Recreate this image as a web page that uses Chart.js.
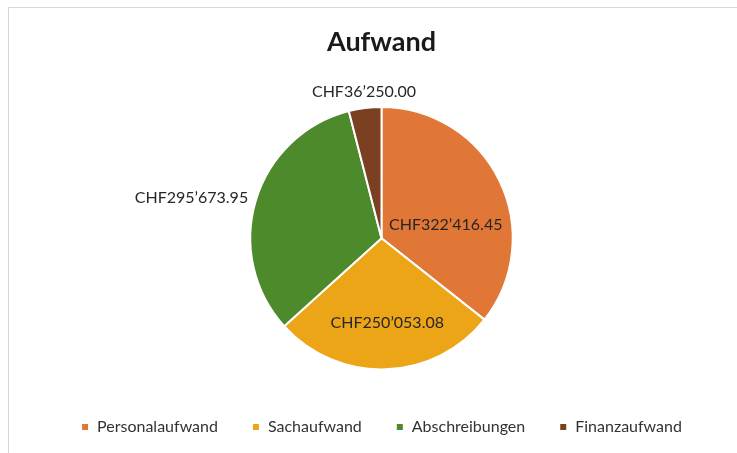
<!DOCTYPE html>
<html>
<head>
<meta charset="utf-8">
<script src="https://cdn.jsdelivr.net/npm/chart.js"></script>
<style>
  html, body { margin: 0; padding: 0; background: #fff; }
  .frame {
    position: absolute; left: 8px; top: 7px; width: 760px; height: 480px;
    border: 1px solid #d6d6d6; box-sizing: border-box;
  }
  #chart { position: absolute; left: 0; top: 0; }
</style>
</head>
<body>
<div class="frame"></div>
<canvas id="chart" width="737" height="453"></canvas>
<script>
const categories = ["Personalaufwand", "Sachaufwand", "Abschreibungen", "Finanzaufwand"];
const amounts = [322416.45, 250053.08, 295673.95, 36250.0];

// slice colours as they came out of the scan
const sliceColors = ["#e07736", "#eca517", "#4d8a2c", "#7b3f22"];
// where each value label goes (Excel "best fit")
const labelPlacement = ["inside", "inside", "outside", "outside"];
const labelRadius = [0.5, 0.65, 1, 1];
const labelAngleFrac = [0.61, 0.48, 0.5, 0.5];

const fontFamily = "Lato, 'Open Sans', sans-serif";

// CHF322'416.45 style
const formatChf = (v) => {
  const [whole, dec] = v.toFixed(2).split(".");
  return "CHF" + whole.replace(/\B(?=(\d{3})+(?!\d))/g, "\u2019") + "." + dec;
};

const valueLabels = {
  id: "valueLabels",
  afterDatasetsDraw: (chart) => {
    const ctx = chart.ctx;
    const meta = chart.getDatasetMeta(0);
    ctx.save();
    ctx.font = "16px " + fontFamily;
    ctx.fillStyle = "#262626";
    meta.data.forEach((arc, i) => {
      const { x, y, startAngle, endAngle, outerRadius } = arc.getProps(
        ["x", "y", "startAngle", "endAngle", "outerRadius"],
        true
      );
      const angle = startAngle + (endAngle - startAngle) * labelAngleFrac[i];
      const dx = Math.cos(angle);
      const dy = Math.sin(angle);
      const text = formatChf(amounts[i]);
      if (labelPlacement[i] === "inside") {
        const r = outerRadius * labelRadius[i];
        ctx.textAlign = "center";
        ctx.textBaseline = "middle";
        ctx.fillText(text, x + dx * r, y + dy * r);
      } else {
        const r = outerRadius + 8;
        if (dx < -0.5) {
          ctx.textAlign = "right";
          ctx.textBaseline = "middle";
        } else if (dx > 0.5) {
          ctx.textAlign = "left";
          ctx.textBaseline = "middle";
        } else {
          ctx.textAlign = "center";
          ctx.textBaseline = dy < 0 ? "bottom" : "top";
        }
        ctx.fillText(text, x + dx * r, y + dy * r);
      }
    });
    ctx.restore();
  },
};

new Chart(document.getElementById("chart").getContext("2d"), {
  type: "pie",
  data: {
    labels: categories,
    datasets: [
      {
        data: amounts,
        backgroundColor: sliceColors,
        borderColor: "#ffffff",
        borderWidth: 2,
        radius: "90%",
      },
    ],
  },
  options: {
    responsive: false,
    animation: false,
    layout: {
      padding: { top: 10, left: 26, right: 0, bottom: 8 },
    },
    plugins: {
      title: {
        display: true,
        text: "Aufwand",
        color: "#1a1a1a",
        font: { family: fontFamily, size: 27, weight: "bold" },
        padding: { top: 16, bottom: 33 },
      },
      legend: {
        position: "bottom",
        labels: {
          boxWidth: 8,
          boxHeight: 8,
          padding: 34,
          color: "#333333",
          font: { family: fontFamily, size: 16 },
        },
      },
      tooltip: { enabled: false },
    },
  },
  plugins: [valueLabels],
});
</script>
</body>
</html>
